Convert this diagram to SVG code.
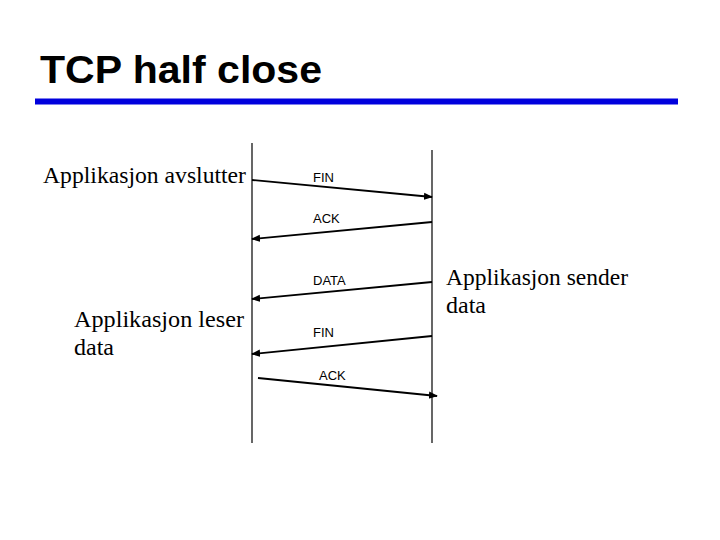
<svg xmlns="http://www.w3.org/2000/svg" width="720" height="540" viewBox="0 0 720 540">
<defs>
<style>
.title{font-family:"Liberation Sans",Arial,sans-serif;font-weight:bold;font-size:39px;fill:#000}
.lbl{font-family:"Liberation Sans",Arial,sans-serif;font-size:13px;fill:#000}
.note{font-family:"Liberation Serif","Times New Roman",serif;font-size:24px;fill:#000}
.life{stroke:#000;stroke-width:1.2;fill:none}
.msg{stroke:#000;stroke-width:1.8;fill:none;marker-end:url(#ah)}
</style>
<marker id="ah" viewBox="0 0 10 10" refX="9" refY="5" markerWidth="5" markerHeight="5" orient="auto" markerUnits="strokeWidth">
<path d="M0,1 L10,5 L0,9 z" fill="#000"/>
</marker>
</defs>
<rect width="720" height="540" fill="#fff"/>
<g id="title">
<text class="title" x="40" y="83" textLength="282" lengthAdjust="spacingAndGlyphs">TCP half close</text>
<rect x="35" y="98.5" width="643" height="6" fill="#0000dd"/>
</g>
<g id="lifelines">
<line class="life" x1="252" y1="143" x2="252" y2="443"/>
<line class="life" x1="432" y1="150" x2="432" y2="443"/>
</g>
<g id="connectors">
<line class="msg" x1="252" y1="180" x2="432" y2="197"/>
<line class="msg" x1="432" y1="222" x2="252" y2="239"/>
<line class="msg" x1="432" y1="282" x2="252" y2="299"/>
<line class="msg" x1="432" y1="336" x2="252" y2="354"/>
<line class="msg" x1="258" y1="378" x2="437" y2="396"/>
</g>
<g id="labels">
<text class="lbl" x="313" y="182">FIN</text>
<text class="lbl" x="313" y="223">ACK</text>
<text class="lbl" x="313" y="285">DATA</text>
<text class="lbl" x="313" y="337">FIN</text>
<text class="lbl" x="319" y="380">ACK</text>
</g>
<g id="note-avslutter"><text class="note" x="43" y="183" textLength="203" lengthAdjust="spacingAndGlyphs">Applikasjon avslutter</text></g>
<g id="note-leser"><text class="note" x="74" y="327" textLength="170" lengthAdjust="spacingAndGlyphs">Applikasjon leser</text><text class="note" x="74" y="355">data</text></g>
<g id="note-sender"><text class="note" x="446" y="285" textLength="182" lengthAdjust="spacingAndGlyphs">Applikasjon sender</text><text class="note" x="446" y="313">data</text></g>
</svg>
